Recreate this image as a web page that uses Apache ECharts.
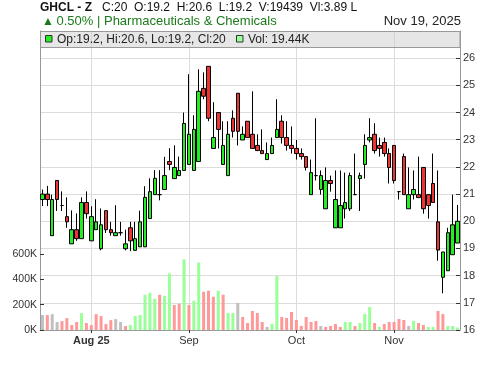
<!DOCTYPE html>
<html><head><meta charset="utf-8">
<script src="https://cdn.jsdelivr.net/npm/echarts@6/dist/echarts.min.js"></script>
<style>html,body{margin:0;padding:0;background:#fff}#c{width:500px;height:366px}</style>
</head><body><div id="c"></div>
<script>
const dates = [
 '2025-07-18','2025-07-21','2025-07-22','2025-07-23','2025-07-24','2025-07-25','2025-07-28','2025-07-29','2025-07-30','2025-07-31',
 '2025-08-01','2025-08-04','2025-08-05','2025-08-06','2025-08-07','2025-08-08','2025-08-11','2025-08-12','2025-08-13','2025-08-14',
 '2025-08-18','2025-08-19','2025-08-20','2025-08-21','2025-08-22','2025-08-25','2025-08-26','2025-08-27','2025-08-28','2025-08-29',
 '2025-09-01','2025-09-02','2025-09-03','2025-09-04','2025-09-05','2025-09-08','2025-09-09','2025-09-10','2025-09-11','2025-09-12',
 '2025-09-15','2025-09-16','2025-09-17','2025-09-18','2025-09-19','2025-09-22','2025-09-23','2025-09-24','2025-09-25','2025-09-26',
 '2025-09-29','2025-09-30','2025-10-01','2025-10-03','2025-10-06','2025-10-07','2025-10-08','2025-10-09','2025-10-10','2025-10-13',
 '2025-10-14','2025-10-15','2025-10-16','2025-10-17','2025-10-20','2025-10-23','2025-10-24','2025-10-27','2025-10-28','2025-10-29',
 '2025-10-30','2025-10-31','2025-11-03','2025-11-04','2025-11-05','2025-11-06','2025-11-07','2025-11-10','2025-11-11','2025-11-12',
 '2025-11-13','2025-11-14','2025-11-17','2025-11-18','2025-11-19','2025-11-20'
];
const opens = [
 20.8,21.0,19.47,21.5,20.58,20.17,19.17,19.69,19.36,20.69,
 19.28,19.69,18.99,20.39,19.69,19.47,19.58,18.99,19.76,18.93,
 19.06,19.06,20.1,20.98,20.98,21.17,22.2,21.57,21.68,21.87,
 22.09,21.87,22.2,24.89,25.7,22.68,24.0,22.09,21.68,23.79,
 24.71,22.99,23.68,23.2,22.79,22.6,22.27,22.49,23.08,23.68,
 23.08,22.79,22.68,22.49,22.38,20.98,21.68,21.17,20.46,21.5,
 19.76,19.76,20.46,20.46,20.98,21.57,22.09,22.99,23.2,22.79,
 22.9,22.49,22.79,21.09,22.38,20.46,20.98,20.98,21.98,20.98,
 21.39,19.98,17.94,18.18,18.77,19.2
];
const closes = [
 21.0,20.8,20.8,20.8,20.58,19.98,19.69,19.36,20.69,20.28,
 20.17,19.98,19.87,19.69,19.58,19.58,19.58,19.17,19.28,19.36,
 19.98,20.88,21.09,21.58,20.98,21.68,22.09,21.98,21.87,23.6,
 23.2,23.38,24.78,24.6,23.79,23.08,23.38,22.79,23.2,23.31,
 23.31,23.2,23.08,22.68,22.6,22.49,22.49,22.79,23.38,23.08,
 22.79,22.68,22.49,22.38,21.98,21.79,21.68,21.68,21.5,21.39,
 20.8,20.58,20.69,21.68,20.98,21.68,22.79,23.08,22.6,22.68,
 22.49,21.98,21.5,21.09,20.98,20.98,21.17,20.87,20.46,20.58,
 20.69,18.94,18.87,19.58,19.87,20
];
const lows = [
 20.56,20.56,19.47,20.38,20.38,19.76,19.17,19.28,19.36,20.1,
 19.28,19.69,18.93,19.57,19.47,19.47,19.47,18.93,18.9,18.93,
 19.06,19.06,20.1,20.98,20.77,21.17,21.88,21.57,21.68,21.87,
 22.09,21.87,22.2,24.49,23.68,22.68,22.68,22.09,21.68,23.08,
 22.79,22.99,23.08,22.68,22.6,22.49,22.27,22.49,23.08,22.86,
 22.6,22.49,22.27,22.27,21.87,20.98,21.5,20.98,20.46,21.09,
 19.76,19.76,20.1,20.38,20.98,20.38,21.57,22.9,22.49,22.38,
 22.38,21.39,21.39,20.8,20.98,20.46,20.8,20.87,20.28,20.1,
 20.69,18.55,17.35,18.18,18.77,19.2
];
const highs = [
 21.17,21.3,20.98,21.5,21.1,20.88,20.4,20.29,20.88,21.1,
 20.55,20.81,20.47,20.39,19.98,20.59,19.98,19.69,19.98,19.98,
 20.39,21.29,21.58,21.88,21.88,22.37,22.69,22.79,22.38,24.0,
 25.41,23.9,25.59,25.48,25.7,24.38,24.0,23.68,23.68,24.08,
 24.71,23.49,23.68,24.78,23.2,23.38,22.9,23.08,24.49,23.9,
 23.68,23.49,22.99,22.68,22.38,22.27,23.79,21.87,21.98,21.68,
 21.87,21.87,21.79,21.79,22.49,21.79,23.2,23.79,23.61,23.08,
 23.08,22.68,22.79,21.09,22.49,21.98,21.87,22.38,21.98,20.98,
 22.49,21.87,18.87,19.76,20.98,20.6
];
const volumes = [
 118000,118000,125000,63000,70000,94000,39000,63000,133000,55000,
 39000,125000,110000,47000,78000,86000,63000,31000,39000,110000,
 118000,278000,294000,246000,278000,270000,446000,197000,207000,558000,
 197000,231000,533000,302000,310000,262000,310000,278000,134000,134000,
 214000,103000,55000,150000,134000,63000,24000,47000,426000,103000,
 95000,142000,79000,32000,103000,63000,71000,32000,24000,32000,
 47000,24000,63000,63000,32000,55000,126000,182000,55000,24000,
 47000,63000,63000,87000,79000,32000,71000,55000,39000,24000,
 24000,150000,126000,32000,32000,19439
];
const priceTicks = [16,17,18,19,20,21,22,23,24,25,26];
const volumeTicks = [0,200000,400000,600000];
const monthTickLabels = ['Aug 25','Sep','Oct','Nov'];
const headerTitle = 'GHCL - Z';
const headerExtra = 'Vl:3.89 L';
const headerChange = '0.50%';
const headerSector = 'Pharmaceuticals & Chemicals';
const headerDate = 'Nov 19, 2025';

const FONT = "'Liberation Sans', Arial, sans-serif";
const UP = '#22ee22', DOWN = '#ee3333';
const VUP = '#99ff99', VDOWN = '#ff9999', VFLAT = '#c0c0c0';

const monthStarts = [];
for (let i = 1; i < dates.length; i++) {
  if (dates[i].slice(5,7) !== dates[i-1].slice(5,7)) monthStarts.push(i);
}
const labelOf = {};
monthStarts.forEach((idx, k) => { labelOf[idx] = monthTickLabels[k]; });
const isMonth = (i) => labelOf[i] !== undefined;

const candleData = opens.map((o, i) => [o, closes[i], lows[i], highs[i]]);
const volData = volumes.map((v, i) => {
  let c = VFLAT;
  if (i > 0) c = closes[i] > closes[i-1] ? VUP : (closes[i] < closes[i-1] ? VDOWN : VFLAT);
  return { value: v, itemStyle: { color: c } };
});

const last = dates.length - 1;
const headerVals = `C:${closes[last]}  O:${opens[last]}  H:${highs[last]}  L:${lows[last]}  V:${volumes[last]}  ${headerExtra}`;
const legendOHLC = `Op:${opens[last]}, Hi:${highs[last]}, Lo:${lows[last]}, Cl:${closes[last]}`;
const legendVol = `Vol: ${(volumes[last]/1000).toFixed(2)}K`;

const chart = echarts.init(document.getElementById('c'), null, { renderer: 'canvas' });
chart.setOption({
  animation: false,
  backgroundColor: '#fff',
  grid: [
    { left: 40, right: 40, top: 31, bottom: 36 },
    { left: 40, right: 40, top: 254, bottom: 36 }
  ],
  xAxis: [
    {
      type: 'category', gridIndex: 0, data: dates, boundaryGap: true,
      axisLine: { show: true, lineStyle: { color: '#999', width: 1 } },
      axisTick: { show: true, alignWithLabel: true, interval: (i) => isMonth(i), length: 3, lineStyle: { color: '#333' } },
      axisLabel: {
        interval: (i) => isMonth(i), margin: 5, fontSize: 11, color: '#333', fontFamily: FONT,
        formatter: (v, i) => labelOf[i] ? (i === monthStarts[0] ? '{b|' + labelOf[i] + '}' : labelOf[i]) : '',
        rich: { b: { fontWeight: 'bold', fontSize: 11, color: '#333', fontFamily: FONT } }
      },
      splitLine: { show: true, alignWithLabel: true, interval: (i) => isMonth(i), lineStyle: { color: '#dcdcdc', width: 1 } }
    },
    {
      type: 'category', gridIndex: 1, data: dates, boundaryGap: true,
      axisLine: { show: false }, axisTick: { show: false }, axisLabel: { show: false }, splitLine: { show: false }
    }
  ],
  yAxis: [
    {
      type: 'value', gridIndex: 0, position: 'right', min: priceTicks[0], max: priceTicks[priceTicks.length-1] + 1, interval: 1,
      axisLine: { show: true, lineStyle: { color: '#999' } },
      axisTick: { show: true, inside: true, length: 4, lineStyle: { color: '#333' } },
      axisLabel: { margin: 3, fontSize: 11, color: '#333', fontFamily: FONT,
        formatter: (v) => priceTicks.indexOf(v) >= 0 ? String(v) : '' },
      splitLine: { show: true, lineStyle: { color: '#dcdcdc', width: 1 } }
    },
    {
      type: 'value', gridIndex: 0, position: 'left', min: priceTicks[0], max: priceTicks[priceTicks.length-1] + 1,
      axisLine: { show: true, lineStyle: { color: '#999' } },
      axisTick: { show: false }, axisLabel: { show: false }, splitLine: { show: false }
    },
    {
      type: 'value', gridIndex: 1, position: 'left', min: volumeTicks[0], max: volumeTicks[volumeTicks.length-1], interval: volumeTicks[1] - volumeTicks[0],
      axisLine: { show: false },
      axisTick: { show: true, inside: true, length: 4, lineStyle: { color: '#333' } },
      axisLabel: { margin: 3, fontSize: 10.5, color: '#333', fontFamily: FONT, formatter: (v) => (v/1000) + 'K' },
      splitLine: { show: false }
    }
  ],
  series: [
    {
      type: 'bar', xAxisIndex: 1, yAxisIndex: 2, data: volData, barWidth: 3, z: 2
    },
    {
      type: 'candlestick', xAxisIndex: 0, yAxisIndex: 0, data: candleData, barWidth: 4, z: 3,
      itemStyle: { color: UP, color0: DOWN, borderColor: '#000', borderColor0: '#000', borderColorDoji: '#000', borderWidth: 1 }
    }
  ],
  graphic: [
    { type: 'text', z: 100, style: { x: 40, y: 8, text: headerTitle, font: 'bold 12px ' + FONT, fill: '#111', verticalAlign: 'middle' } },
    { type: 'text', z: 100, style: { x: 102, y: 8, text: headerVals, font: '12px ' + FONT, fill: '#111', verticalAlign: 'middle' } },
    { type: 'text', z: 100, style: { x: 42, y: 21.5, text: '▲', font: '12px ' + FONT, fill: '#1a7a1a', verticalAlign: 'middle' } },
    { type: 'text', z: 100, style: { x: 56.5, y: 21.5, text: headerChange + ' | ' + headerSector, font: '13px ' + FONT, fill: '#1a7a1a', verticalAlign: 'middle' } },
    { type: 'text', z: 100, style: { x: 461, y: 21.5, text: headerDate, font: '13px ' + FONT, fill: '#222', align: 'right', verticalAlign: 'middle' } },
    { type: 'rect', z: 90, shape: { x: 40.5, y: 31.5, width: 419.5, height: 16 }, style: { fill: 'rgba(200,200,200,0.45)', stroke: '#999', lineWidth: 1 } },
    { type: 'rect', z: 100, shape: { x: 45.5, y: 35.5, width: 6.5, height: 6.5 }, style: { fill: UP, stroke: '#333', lineWidth: 1 } },
    { type: 'text', z: 100, style: { x: 57, y: 39.5, text: legendOHLC, font: '12px ' + FONT, fill: '#222', verticalAlign: 'middle' } },
    { type: 'rect', z: 100, shape: { x: 236.5, y: 35.5, width: 6.5, height: 6.5 }, style: { fill: VUP, stroke: '#333', lineWidth: 1 } },
    { type: 'text', z: 100, style: { x: 248, y: 39.5, text: legendVol, font: '12px ' + FONT, fill: '#222', verticalAlign: 'middle' } }
  ]
});
</script>
</body></html>
